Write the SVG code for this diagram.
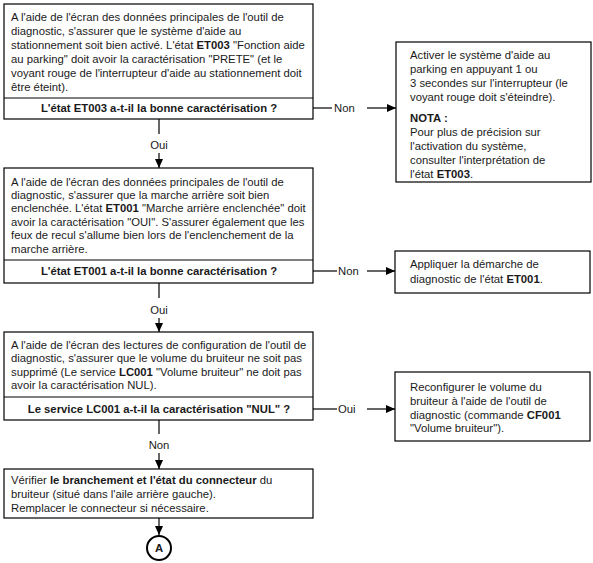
<svg xmlns="http://www.w3.org/2000/svg" width="593" height="563" viewBox="0 0 593 563">
<style>
  .bg{fill:#fff}
  .box{fill:#fff;stroke:#000;stroke-width:1.2}
  text{font-family:"Liberation Sans",Arial,sans-serif;font-size:11.3px;fill:#1a1a1a}
  .b{font-weight:bold}
  .c{text-anchor:middle}
  .ln{stroke:#000;stroke-width:1.2;fill:none}
</style>
<defs>
  <marker id="ah" markerUnits="userSpaceOnUse" markerWidth="10" markerHeight="10" viewBox="0 0 10 10" refX="9" refY="5" orient="auto">
    <path d="M0,1 L9,5 L0,9 Z" fill="#000"/>
  </marker>
</defs>
<rect class="bg" width="593" height="563"/>

<g id="connectors">
  <line class="ln" x1="159" y1="119" x2="159" y2="134"/>
  <text class="c" x="159" y="149">Oui</text>
  <line class="ln" x1="159" y1="153" x2="159" y2="168" marker-end="url(#ah)"/>

  <line class="ln" x1="159" y1="283" x2="159" y2="298"/>
  <text class="c" x="159" y="314">Oui</text>
  <line class="ln" x1="159" y1="318" x2="159" y2="332" marker-end="url(#ah)"/>

  <line class="ln" x1="159" y1="420" x2="159" y2="434"/>
  <text class="c" x="159" y="449">Non</text>
  <line class="ln" x1="159" y1="453" x2="159" y2="469" marker-end="url(#ah)"/>

  <line class="ln" x1="159" y1="518" x2="159" y2="535" marker-end="url(#ah)"/>

  <line class="ln" x1="313" y1="108" x2="332" y2="108"/>
  <text x="334" y="112">Non</text>
  <line class="ln" x1="367" y1="108" x2="396" y2="108" marker-end="url(#ah)"/>

  <line class="ln" x1="313" y1="271" x2="337" y2="271"/>
  <text x="338" y="275">Non</text>
  <line class="ln" x1="367" y1="271" x2="395" y2="271" marker-end="url(#ah)"/>

  <line class="ln" x1="313" y1="409" x2="337" y2="409"/>
  <text x="338" y="413">Oui</text>
  <line class="ln" x1="367" y1="409" x2="395" y2="409" marker-end="url(#ah)"/>
</g>

<g id="n1">
  <rect class="box" x="4" y="4" width="309" height="115"/>
  <line class="ln" x1="4" y1="98" x2="313" y2="98"/>
  <text x="11" y="21">A l'aide de l'écran des données principales de l'outil de</text>
  <text x="11" y="35">diagnostic, s'assurer que le système d'aide au</text>
  <text x="11" y="49">stationnement soit bien activé. L'état <tspan class="b">ET003</tspan> "Fonction aide</text>
  <text x="11" y="63">au parking" doit avoir la caractérisation "PRETE" (et le</text>
  <text x="11" y="77">voyant rouge de l'interrupteur d'aide au stationnement doit</text>
  <text x="11" y="91">être éteint).</text>
  <text class="b c" x="159" y="112">L'état ET003 a-t-il la bonne caractérisation ?</text>
</g>

<g id="n2">
  <rect class="box" x="396" y="42" width="195" height="140"/>
  <text x="410" y="59">Activer le système d'aide au</text>
  <text x="410" y="73">parking en appuyant 1 ou</text>
  <text x="410" y="87">3 secondes sur l'interrupteur (le</text>
  <text x="410" y="101">voyant rouge doit s'éteindre).</text>
  <text class="b" x="410" y="122">NOTA :</text>
  <text x="410" y="135.5">Pour plus de précision sur</text>
  <text x="410" y="149.5">l'activation du système,</text>
  <text x="410" y="163.5">consulter l'interprétation de</text>
  <text x="410" y="177.5">l'état <tspan class="b">ET003</tspan>.</text>
</g>

<g id="n3">
  <rect class="box" x="4" y="168" width="309" height="115"/>
  <line class="ln" x1="4" y1="260" x2="313" y2="260"/>
  <text x="11" y="185.5">A l'aide de l'écran des données principales de l'outil de</text>
  <text x="11" y="198.9">diagnostic, s'assurer que la marche arrière soit bien</text>
  <text x="11" y="212.3">enclenchée. L'état <tspan class="b">ET001</tspan> "Marche arrière enclenchée" doit</text>
  <text x="11" y="225.7">avoir la caractérisation "OUI". S'assurer également que les</text>
  <text x="11" y="239.1">feux de recul s'allume bien lors de l'enclenchement de la</text>
  <text x="11" y="252.5">marche arrière.</text>
  <text class="b c" x="159" y="275">L'état ET001 a-t-il la bonne caractérisation ?</text>
</g>

<g id="n4">
  <rect class="box" x="395" y="251" width="195" height="42"/>
  <text x="410" y="268">Appliquer la démarche de</text>
  <text x="410" y="282.5">diagnostic de l'état <tspan class="b">ET001</tspan>.</text>
</g>

<g id="n5">
  <rect class="box" x="4" y="332" width="309" height="88"/>
  <line class="ln" x1="4" y1="397" x2="313" y2="397"/>
  <text x="11" y="349">A l'aide de l'écran des lectures de configuration de l'outil de</text>
  <text x="11" y="362.3">diagnostic, s'assurer que le volume du bruiteur ne soit pas</text>
  <text x="11" y="375.7">supprimé (Le service <tspan class="b">LC001</tspan> "Volume bruiteur" ne doit pas</text>
  <text x="11" y="389">avoir la caractérisation NUL).</text>
  <text class="b c" x="159" y="413">Le service LC001 a-t-il la caractérisation "NUL" ?</text>
</g>

<g id="n6">
  <rect class="box" x="395" y="372" width="195" height="69"/>
  <text x="410" y="391">Reconfigurer le volume du</text>
  <text x="410" y="405">bruiteur à l'aide de l'outil de</text>
  <text x="410" y="418.5">diagnostic (commande <tspan class="b">CF001</tspan></text>
  <text x="410" y="432">"Volume bruiteur").</text>
</g>

<g id="n7">
  <rect class="box" x="4" y="469" width="309" height="49"/>
  <text x="11" y="484">Vérifier <tspan class="b">le branchement et l'état du connecteur</tspan> du</text>
  <text x="11" y="498">bruiteur (situé dans l'aile arrière gauche).</text>
  <text x="11" y="512">Remplacer le connecteur si nécessaire.</text>
</g>

<g id="n8">
  <circle cx="159" cy="548" r="12" fill="#fff" stroke="#000" stroke-width="2"/>
  <text class="b c" x="159" y="552">A</text>
</g>
</svg>
